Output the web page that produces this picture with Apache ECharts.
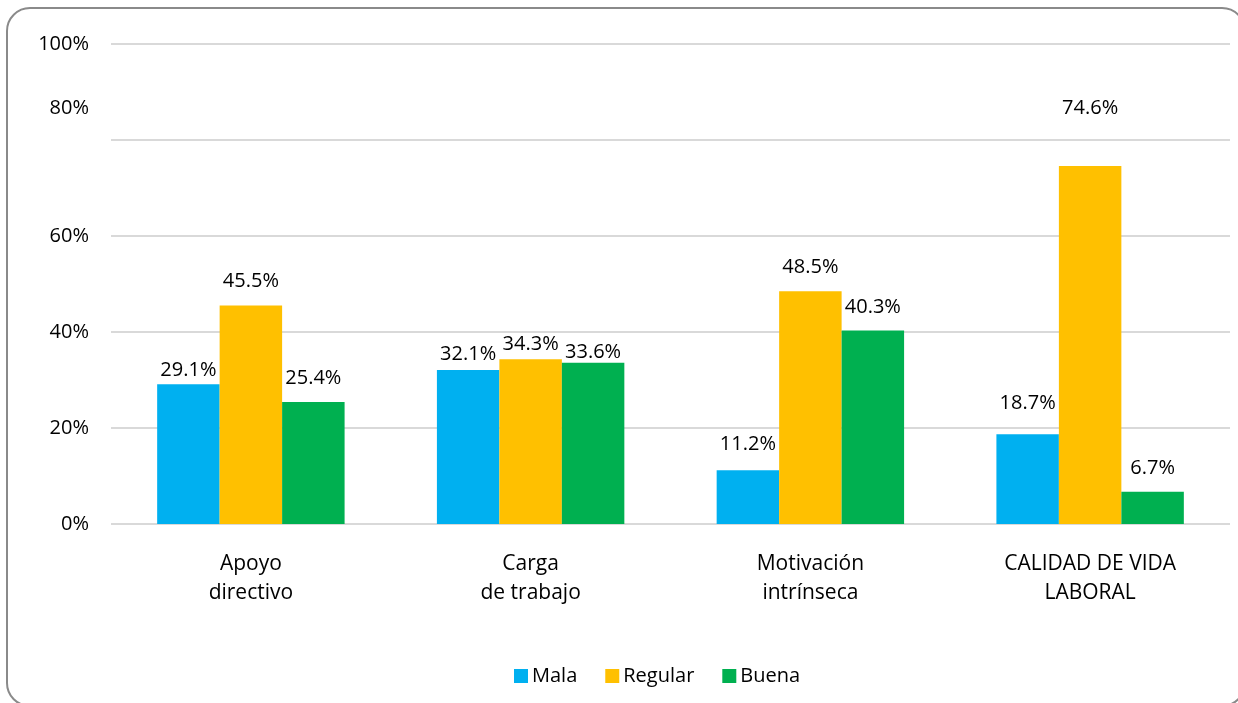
<!DOCTYPE html>
<html>
<head>
<meta charset="utf-8">
<script src="https://cdn.jsdelivr.net/npm/echarts@6/dist/echarts.min.js"></script>
<style>
html,body{margin:0;padding:0;background:#fff;}
#frame{position:absolute;left:6px;top:7px;width:1240px;height:700px;border:2px solid #8a8a8a;border-radius:24px;box-sizing:border-box;}
#chart{position:absolute;left:0;top:0;width:1238px;height:703px;}
</style>
</head>
<body>
<div id="frame"></div>
<div id="chart"></div>
<script>
const categories = ['Apoyo\ndirectivo', 'Carga\nde trabajo', 'Motivación\nintrínseca', 'CALIDAD DE VIDA\nLABORAL'];
const seriesNames = ['Mala', 'Regular', 'Buena'];
const mala = [29.1, 32.1, 11.2, 18.7];
const regular = [45.5, 34.3, 48.5, 74.6];
const buena = [25.4, 33.6, 40.3, 6.7];
const yTicks = [0, 20, 40, 60, 80, 100];

// label placement (style only): extra lift above bar top, px
const liftMala = [0, 2, 12, 17];
const liftRegular = [10, 1, 10, 44];
const liftBuena = [10, -4, 9, 10];
const colors = ['#00B0F0', '#FFC000', '#00B050'];
const FONT = 'Open Sans';

function mk(name, vals, lift, color) {
  return {
    name: name, type: 'bar', barGap: '0%', barCategoryGap: '33%',
    itemStyle: { color: color },
    data: vals.map((v, i) => ({
      value: v,
      label: { offset: [0, -lift[i]] }
    })),
    label: {
      show: true, position: 'top', distance: 4,
      formatter: p => p.value.toFixed(1) + '%',
      fontFamily: FONT, fontSize: 20, color: '#000'
    }
  };
}

const chart = echarts.init(document.getElementById('chart'));
chart.setOption({
  animation: false,
  textStyle: { fontFamily: FONT },
  grid: { left: 111, right: 8, top: 44, bottom: 179 },
  legend: {
    top: 661, left: 509, itemWidth: 14, itemHeight: 14, itemGap: 28,
    icon: 'rect',
    textStyle: { fontFamily: FONT, fontSize: 20, color: '#000', padding: [0, 0, 0, -1] },
    data: seriesNames
  },
  xAxis: {
    type: 'category', data: categories,
    axisLine: { show: false }, axisTick: { show: false },
    axisLabel: { fontFamily: FONT, fontSize: 21, color: '#000', lineHeight: 29, margin: 26 }
  },
  yAxis: {
    type: 'value', min: 0, max: 100, interval: 20,
    axisLine: { show: false }, axisTick: { show: false },
    splitLine: { lineStyle: { color: '#d9d9d9', width: 2 } },
    axisLabel: {
      fontFamily: FONT, fontSize: 20, color: '#000', margin: 22,
      formatter: v => (v === yTicks[4] ? '{up|' + v + '%}' : v + '%'),
      rich: { up: { fontFamily: FONT, fontSize: 20, color: '#000', padding: [0, 0, 64, 0] } }
    }
  },
  series: [
    mk(seriesNames[0], mala, liftMala, colors[0]),
    mk(seriesNames[1], regular, liftRegular, colors[1]),
    mk(seriesNames[2], buena, liftBuena, colors[2])
  ]
});
</script>
</body>
</html>
